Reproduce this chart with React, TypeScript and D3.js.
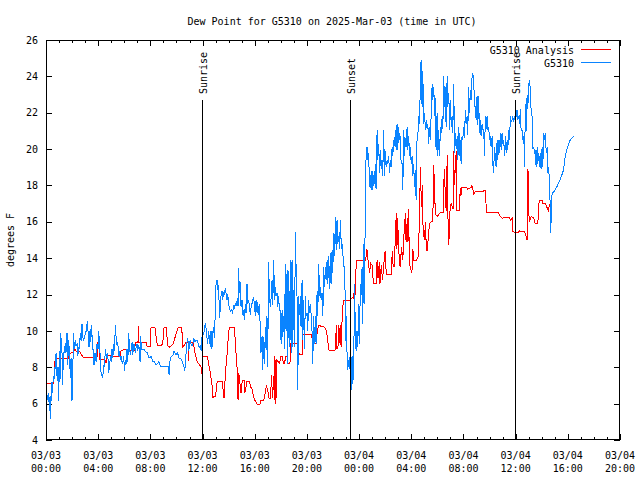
import React from 'react';
import * as d3 from 'd3';

// Chart text
const TITLE = 'Dew Point for G5310 on 2025-Mar-03 (time in UTC)';
const Y_LABEL = 'degrees F';
const SERIES_NAMES = ['G5310 Analysis', 'G5310'];
const SERIES_COLORS = ['#ff0000', '#0a84ff'];

// Axis ticks
const Y_TICKS = [4, 6, 8, 10, 12, 14, 16, 18, 20, 22, 24, 26];
const X_TICK_HOURS = [0, 4, 8, 12, 16, 20, 24, 28, 32, 36, 40, 44];
const X_DOMAIN_HOURS = [0, 44];
const Y_DOMAIN = [4, 26];

// Sun events (hours after 2025-03-03 00:00 UTC)
const SUN_LABELS = ['Sunrise', 'Sunset', 'Sunrise'];
const SUN_HOURS = [11.95, 23.27, 35.93];

// G5310 Analysis: [hours after 03/03 00:00 UTC, dew point F]
const ANALYSIS: [number, number][] = [
  [0, 7.1], [0.6, 7.1], [0.65, 8.2], [0.75, 8.5], [1.7, 8.5], [1.8, 8.75], [2.1, 8.85], [2.2, 9.0],
  [2.35, 8.85], [2.6, 8.85], [2.7, 8.7], [2.85, 8.55], [3.75, 8.5], [3.9, 8.35], [3.95, 9.35], [4.05, 9.35],
  [4.1, 8.45], [4.5, 8.45], [4.6, 8.25], [4.7, 8.7], [5.0, 8.6], [5.7, 8.6], [5.75, 8.9], [6.1, 9.0],
  [6.2, 8.95], [6.8, 8.95], [6.85, 9.35], [7.05, 9.35], [7.08, 10.25], [7.12, 9.35], [7.7, 9.35], [7.75, 9.15],
  [8.0, 9.15], [8.05, 10.2], [8.35, 10.2], [8.45, 9.6], [8.55, 9.2], [8.85, 9.2], [8.95, 9.3], [9.05, 10.2],
  [9.25, 10.2], [9.3, 9.2], [9.5, 9.1], [9.75, 9.3], [10.0, 9.9], [10.15, 10.2], [10.4, 10.2], [10.5, 9.1],
  [10.7, 9.35], [10.9, 9.35], [10.93, 8.35], [10.98, 9.35], [11.3, 9.35], [11.4, 8.9], [11.45, 8.7], [11.6, 8.3],
  [11.7, 8.2], [11.9, 8.0], [11.95, 7.65], [12.0, 8.6], [12.38, 8.6], [12.45, 8.2], [12.55, 7.9], [12.65, 7.4],
  [12.75, 6.9], [12.8, 6.3], [12.85, 6.4], [13.0, 6.4], [13.05, 6.8], [13.12, 7.2], [13.5, 7.2], [13.6, 6.6],
  [13.65, 6.3], [13.7, 6.9], [13.75, 7.7], [13.85, 8.4], [13.95, 9.4], [14.05, 10.2], [14.45, 10.2], [14.5, 9.5],
  [14.6, 8.4], [14.7, 7.5], [14.72, 6.2], [14.78, 7.7], [14.85, 7.2], [14.95, 6.6], [15.05, 7.3], [15.2, 7.3],
  [15.25, 6.6], [15.4, 7.2], [15.6, 7.2], [15.7, 6.9], [15.8, 6.8], [15.9, 6.4], [16.0, 6.2], [16.1, 6.1],
  [16.2, 5.95], [16.4, 5.95], [16.45, 6.2], [16.7, 6.2], [16.8, 6.6], [16.9, 7.0], [17.0, 6.7], [17.1, 6.3],
  [17.2, 6.3], [17.3, 7.6], [17.35, 6.3], [17.45, 7.5], [17.5, 6.2], [17.55, 8.6], [17.62, 6.0], [17.7, 8.4],
  [17.9, 8.2], [18.0, 8.6], [18.1, 8.6], [18.2, 8.2], [18.3, 8.2], [18.35, 8.6], [18.5, 8.6], [18.55, 8.2],
  [18.7, 8.2], [18.75, 9.3], [19.35, 9.3], [19.4, 8.7], [19.65, 8.7], [19.7, 9.8], [20.35, 9.8], [20.45, 9.3],
  [20.7, 9.3], [20.8, 10.0], [20.9, 10.3], [21.35, 10.2], [21.5, 10.0], [21.6, 9.4], [21.7, 8.9], [22.15, 8.9],
  [22.2, 9.2], [22.25, 10.3], [22.3, 9.0], [22.4, 9.2], [22.45, 10.3], [22.55, 9.2], [22.6, 10.3], [22.65, 9.1],
  [22.7, 10.8], [22.8, 11.7], [23.3, 11.7], [23.5, 11.85], [23.6, 11.8], [23.62, 12.3], [23.68, 11.8], [23.72, 12.8],
  [23.8, 13.9], [24.5, 13.9], [24.6, 14.5], [24.68, 13.9], [24.75, 13.5], [24.8, 13.2], [24.9, 13.7], [25.0, 13.6],
  [25.05, 13.1], [25.1, 12.6], [25.3, 12.6], [25.38, 13.9], [25.45, 12.9], [25.55, 13.8], [25.6, 12.6], [25.7, 13.6],
  [25.8, 12.8], [25.9, 13.7], [26.0, 14.4], [26.05, 13.5], [26.1, 13.1], [26.45, 13.1], [26.55, 14.4], [26.6, 13.7],
  [26.7, 13.5], [26.78, 15.2], [26.85, 16.5], [26.9, 14.5], [26.95, 16.2], [27.05, 14.3], [27.15, 13.5], [27.25, 14.6],
  [27.35, 13.9], [27.45, 15.4], [27.55, 16.5], [27.6, 14.9], [27.7, 16.2], [27.75, 14.9], [27.8, 16.7], [27.85, 13.8],
  [27.95, 13.4], [28.05, 13.2], [28.12, 14.5], [28.2, 13.9], [28.4, 13.9], [28.55, 14.1], [28.65, 17.1], [28.7, 19.0],
  [28.78, 16.8], [28.85, 18.0], [28.9, 15.8], [29.0, 15.0], [29.1, 16.0], [29.15, 14.4], [29.25, 14.4], [29.3, 15.2],
  [29.4, 15.9], [29.55, 16.0], [29.65, 16.0], [29.72, 19.1], [29.78, 17.8], [29.85, 16.4], [30.0, 16.3], [30.2, 16.5],
  [30.45, 16.5], [30.5, 18.2], [30.55, 18.9], [30.62, 17.0], [30.7, 16.6], [30.75, 19.7], [30.8, 16.5], [30.88, 14.7],
  [30.95, 16.5], [31.05, 17.0], [31.2, 16.7], [31.25, 19.9], [31.3, 18.0], [31.38, 19.0], [31.45, 19.9], [31.5, 16.65],
  [31.7, 16.65], [31.75, 17.85], [31.8, 17.4], [31.87, 17.9], [32.25, 17.9], [32.3, 17.8], [32.5, 17.85], [32.6, 17.9],
  [32.65, 18.0], [32.7, 17.9], [32.8, 17.5], [32.9, 17.65], [33.5, 17.65], [33.6, 17.75], [33.7, 17.7], [33.75, 16.5],
  [34.7, 16.5], [34.8, 16.3], [35.0, 16.2], [35.2, 16.25], [35.5, 16.25], [35.6, 16.1], [35.75, 16.2], [35.8, 15.45],
  [36.2, 15.4], [36.3, 15.5], [36.7, 15.45], [36.8, 15.2], [36.88, 15.0], [36.9, 18.9], [36.95, 17.0], [36.97, 18.8],
  [37.0, 16.6], [37.05, 16.0], [37.2, 16.3], [37.4, 16.2], [37.5, 15.9], [37.7, 15.9], [37.78, 17.0], [37.85, 17.2],
  [38.05, 17.2], [38.1, 17.0], [38.3, 17.0], [38.4, 16.8], [38.5, 16.6], [38.6, 17.0],
];

// G5310 observations: [hours after 03/03 00:00 UTC, dew point F]
const OBSERVED: [number, number][] = [
  [0.05, 6.6], [0.13, 6.2], [0.2, 6.6], [0.26, 5.6], [0.31, 6.4], [0.36, 5.14], [0.41, 7.2], [0.49, 6.6],
  [0.56, 7.5], [0.61, 7.3], [0.66, 8.0], [0.72, 7.9], [0.77, 8.8], [0.84, 7.5], [0.9, 8.0], [0.95, 6.15],
  [1.02, 8.9], [1.07, 7.2], [1.13, 9.9], [1.18, 9.2], [1.25, 8.6], [1.28, 7.0], [1.33, 8.8], [1.41, 8.8],
  [1.48, 9.36], [1.53, 8.8], [1.61, 9.9], [1.66, 8.1], [1.74, 9.5], [1.79, 8.8], [1.87, 7.4], [1.92, 8.5],
  [1.99, 6.15], [2.05, 7.1], [2.07, 8.4], [2.12, 9.9], [2.17, 9.0], [2.25, 9.5], [2.3, 9.2], [2.38, 9.3],
  [2.43, 8.6], [2.51, 9.1], [2.56, 9.0], [2.63, 9.9], [2.69, 9.45], [2.76, 10.37], [2.81, 9.7], [2.89, 9.5],
  [2.94, 9.6], [3.02, 9.9], [3.09, 10.0], [3.17, 10.55], [3.25, 9.7], [3.3, 9.1], [3.38, 10.1], [3.43, 9.4],
  [3.5, 10.3], [3.56, 9.1], [3.63, 8.9], [3.68, 8.1], [3.76, 8.8], [3.84, 8.3], [3.91, 9.3], [3.99, 9.0],
  [4.04, 10.0], [4.09, 9.4], [4.17, 8.4], [4.22, 7.7], [4.3, 7.5], [4.35, 7.4], [4.42, 8.1], [4.48, 8.0],
  [4.55, 9.0], [4.6, 8.7], [4.68, 8.5], [4.73, 8.8], [4.81, 7.7], [4.86, 8.0], [4.94, 8.6], [4.99, 8.3],
  [5.06, 9.0], [5.12, 8.5], [5.19, 9.3], [5.24, 8.9], [5.32, 10.3], [5.37, 9.7], [5.45, 9.2], [5.5, 9.4],
  [5.58, 8.6], [5.63, 8.9], [5.7, 8.4], [5.75, 8.6], [5.83, 8.3], [5.88, 8.2], [5.96, 8.6], [6.01, 7.8],
  [6.09, 8.4], [6.14, 8.2], [6.21, 9.0], [6.27, 8.3], [6.34, 9.9], [6.39, 9.1], [6.47, 8.7], [6.52, 8.9],
  [6.6, 9.4], [6.65, 8.7], [6.73, 9.3], [6.78, 9.2], [6.85, 8.8], [6.91, 9.1], [6.98, 9.3], [7.03, 8.9],
  [7.11, 9.2], [7.16, 9.0], [7.21, 8.3], [7.26, 9.7], [7.31, 9.0], [7.47, 9.0], [7.67, 8.85], [7.77, 8.8],
  [7.9, 8.5], [8.06, 8.6], [8.18, 8.3], [8.31, 8.3], [8.44, 8.15], [8.54, 8.2], [8.64, 8.3], [8.8, 8.05],
  [9.36, 8.05], [9.44, 7.6], [9.51, 8.4], [9.59, 8.6], [9.72, 8.65], [9.82, 8.9], [9.95, 8.7], [10.08, 8.8],
  [10.2, 8.5], [10.33, 8.5], [10.46, 8.3], [10.59, 8.0], [10.64, 7.8], [10.72, 8.6], [10.79, 9.3], [10.87, 9.6],
  [10.95, 8.9], [11.0, 9.3], [11.07, 9.5], [11.13, 9.2], [11.23, 9.2], [11.33, 9.6], [11.41, 9.4], [11.51, 9.5],
  [11.59, 9.5], [11.66, 9.3], [11.74, 9.1], [11.84, 9.2], [11.89, 8.9], [11.97, 9.8],
  [12.06, 9.8], [12.14, 10.0], [12.21, 10.45], [12.26, 10.2], [12.34, 9.6], [12.39, 9.3], [12.47, 10.0], [12.52, 9.6],
  [12.6, 9.13], [12.65, 10.0], [12.72, 9.0], [12.78, 9.9], [12.85, 10.23], [12.9, 9.6], [12.98, 11.0], [13.03, 12.5],
  [13.11, 12.8], [13.16, 12.25], [13.24, 12.5], [13.29, 10.7], [13.36, 11.2], [13.41, 11.9], [13.49, 12.2], [13.54, 11.7],
  [13.62, 12.15], [13.67, 11.98], [13.75, 12.35], [13.8, 12.1], [13.88, 11.7], [13.93, 12.0], [14.0, 11.5], [14.08, 11.2],
  [14.16, 11.1], [14.23, 11.15], [14.31, 11.0], [14.39, 11.4], [14.44, 11.3], [14.51, 11.5], [14.59, 11.35], [14.67, 11.8],
  [14.72, 11.35], [14.77, 13.45], [14.82, 12.1], [14.9, 12.7], [14.95, 11.33], [15.03, 11.7], [15.08, 10.9], [15.15, 11.15],
  [15.2, 10.6], [15.28, 11.5], [15.33, 10.97], [15.41, 12.6], [15.46, 11.5], [15.54, 11.7], [15.59, 11.33], [15.66, 10.9],
  [15.72, 11.3], [15.79, 11.5], [15.84, 11.7], [15.92, 11.8], [15.97, 11.5], [16.05, 10.8], [16.1, 11.7], [16.18, 11.0],
  [16.23, 11.6], [16.3, 10.9], [16.36, 11.5], [16.43, 10.05], [16.48, 8.8], [16.56, 9.7], [16.61, 7.85], [16.69, 9.68],
  [16.74, 8.2], [16.82, 10.2], [16.87, 8.95], [16.94, 10.8], [16.99, 8.03], [17.07, 13.8], [17.12, 12.0], [17.2, 11.3],
  [17.25, 11.8], [17.33, 12.8], [17.38, 11.4], [17.46, 13.9], [17.51, 11.7], [17.58, 12.4], [17.63, 11.9], [17.71, 12.1],
  [17.76, 11.3], [17.84, 11.9], [17.89, 11.1], [17.97, 11.1], [18.02, 9.3], [18.1, 11.15], [18.15, 9.68], [18.22, 10.8],
  [18.27, 9.0], [18.35, 13.7], [18.4, 10.0], [18.48, 13.35], [18.53, 8.2], [18.61, 13.3], [18.66, 9.1], [18.73, 13.9],
  [18.79, 8.8], [18.86, 13.9], [18.91, 9.1], [18.99, 12.25], [19.04, 9.1], [19.12, 15.45], [19.17, 13.5], [19.25, 11.7],
  [19.3, 6.75], [19.37, 11.9], [19.43, 10.9], [19.5, 11.9], [19.55, 10.2], [19.63, 12.8], [19.68, 9.5], [19.76, 11.7],
  [19.81, 9.0], [19.89, 11.9], [19.94, 10.8], [20.01, 10.97], [20.06, 10.0], [20.14, 11.7], [20.19, 11.0], [20.27, 11.5],
  [20.32, 10.9], [20.4, 9.87], [20.45, 8.2], [20.52, 10.8], [20.58, 9.3], [20.65, 10.8], [20.7, 9.3], [20.78, 12.2],
  [20.83, 10.8], [20.91, 13.7], [20.96, 11.9], [21.04, 12.4], [21.09, 11.7], [21.16, 12.1], [21.22, 10.8], [21.29, 13.5],
  [21.34, 12.4], [21.42, 13.5], [21.47, 12.8], [21.55, 13.9], [21.6, 12.6], [21.68, 14.1], [21.73, 12.3], [21.8, 14.3],
  [21.85, 12.6], [21.93, 14.45], [21.98, 13.2], [22.06, 15.4], [22.11, 14.1], [22.19, 16.28], [22.24, 14.45], [22.31, 16.1],
  [22.37, 14.8], [22.44, 15.2], [22.49, 14.5], [22.57, 16.1],
  [22.64, 14.5], [22.72, 14.8], [22.77, 14.1], [22.85, 13.5], [22.9, 12.6], [22.97, 11.5], [23.0, 9.3], [23.03, 10.8],
  [23.08, 8.6], [23.13, 7.85], [23.2, 8.4], [23.26, 7.9], [23.33, 8.95], [23.38, 6.75], [23.46, 8.6], [23.51, 7.1],
  [23.59, 7.67], [23.64, 12.6], [23.72, 9.9], [23.77, 8.9], [23.84, 10.0], [23.9, 9.1], [23.97, 11.5], [24.02, 9.3],
  [24.1, 12.6], [24.15, 12.0], [24.23, 13.5], [24.28, 10.4], [24.36, 14.8], [24.41, 11.5], [24.48, 17.2], [24.53, 19.4],
  [24.61, 20.13], [24.66, 19.4], [24.74, 19.8], [24.79, 17.9], [24.87, 18.6], [24.92, 17.75], [24.99, 18.8], [25.05, 17.75],
  [25.12, 18.6], [25.17, 18.1], [25.25, 19.2], [25.3, 17.8], [25.38, 21.05], [25.43, 19.4], [25.51, 20.3], [25.56, 18.7],
  [25.63, 19.95], [25.69, 18.9], [25.76, 19.4], [25.81, 18.5], [25.89, 21.05], [25.94, 18.5], [26.02, 19.9], [26.07, 19.0],
  [26.15, 19.4], [26.2, 19.2], [26.27, 19.6], [26.33, 18.7], [26.4, 19.4], [26.45, 19.0], [26.53, 20.1], [26.58, 19.6],
  [26.66, 20.5], [26.71, 20.15], [26.79, 21.05], [26.84, 19.95], [26.91, 21.4], [26.96, 19.95], [27.04, 21.2], [27.09, 20.5],
  [27.17, 20.7], [27.22, 19.2], [27.3, 19.2], [27.35, 17.75], [27.43, 21.05], [27.48, 19.6], [27.55, 20.6], [27.6, 20.1],
  [27.68, 21.2], [27.73, 19.95], [27.81, 20.7], [27.86, 19.6], [27.94, 20.1], [27.99, 19.2], [28.06, 19.6], [28.12, 18.5],
  [28.19, 19.2], [28.24, 17.9], [28.32, 18.85], [28.37, 17.2], [28.45, 20.87], [28.5, 20.7], [28.58, 21.8], [28.63, 21.4],
  [28.7, 23.6], [28.75, 24.9], [28.83, 22.3], [28.88, 24.3], [28.96, 21.4], [29.01, 22.0], [29.09, 21.05], [29.14, 21.6],
  [29.22, 21.1], [29.27, 21.4], [29.34, 20.3], [29.39, 21.2], [29.47, 20.5], [29.52, 21.8], [29.6, 23.6], [29.65, 22.7],
  [29.73, 23.4], [29.78, 21.8], [29.85, 22.8], [29.9, 19.95], [29.98, 22.0], [30.03, 19.6], [30.11, 21.05], [30.16, 19.6],
  [30.24, 21.2], [30.29, 20.9], [30.37, 21.8], [30.42, 21.1], [30.49, 24.0], [30.55, 22.3], [30.62, 23.4], [30.67, 21.2],
  [30.75, 24.0], [30.8, 22.3], [30.88, 23.1], [30.93, 21.05], [31.01, 22.7], [31.06, 21.2], [31.13, 21.8], [31.18, 20.9],
  [31.26, 23.6], [31.31, 19.8], [31.39, 20.87], [31.44, 20.0], [31.52, 20.7], [31.57, 19.4], [31.65, 21.2], [31.7, 19.6],
  [31.77, 20.5], [31.82, 19.2], [31.89, 20.7], [31.94, 20.5], [32.02, 21.2], [32.07, 20.6], [32.15, 22.15], [32.2, 21.4],
  [32.28, 21.8], [32.33, 20.8], [32.4, 23.4], [32.46, 22.0], [32.53, 23.25], [32.58, 22.7], [32.66, 24.0], [32.71, 24.2],
  [32.79, 23.8], [32.84, 22.4], [32.92, 22.3], [32.97, 21.6], [33.04, 22.9], [33.1, 21.3], [33.17, 22.9], [33.22, 20.9],
  [33.3, 21.6], [33.35, 20.7], [33.43, 21.4], [33.48, 21.1], [33.56, 21.05], [33.61, 19.6], [33.68, 21.8], [33.73, 21.1],
  [33.81, 21.8], [33.86, 21.05], [33.94, 21.2], [33.99, 20.5], [34.07, 20.7], [34.12, 20.1], [34.2, 20.7], [34.25, 19.2],
  [34.32, 18.7], [34.37, 20.1], [34.45, 19.6], [34.5, 19.0], [34.58, 20.5], [34.63, 19.4], [34.71, 20.5], [34.76, 19.8],
  [34.83, 20.9], [34.89, 19.95], [34.96, 20.9], [35.01, 20.3], [35.09, 20.5], [35.14, 19.6], [35.22, 20.7], [35.27, 19.8],
  [35.35, 20.5], [35.4, 19.95], [35.47, 21.05], [35.53, 20.5], [35.6, 21.8], [35.65, 21.5], [35.73, 21.6], [35.78, 21.8],
  [35.86, 21.5], [35.91, 21.8], [35.99, 21.6], [36.04, 21.8], [36.11, 22.15], [36.16, 21.6], [36.24, 21.8], [36.29, 21.4],
  [36.37, 22.2], [36.42, 21.0], [36.5, 21.0], [36.55, 20.5], [36.63, 20.7], [36.68, 19.0], [36.75, 22.5], [36.8, 21.0],
  [36.88, 23.0], [36.93, 22.2], [37.01, 23.6], [37.06, 23.8], [37.14, 23.2], [37.19, 22.0], [37.26, 21.8], [37.32, 20.0],
  [37.39, 20.1], [37.44, 19.8], [37.52, 19.9], [37.57, 19.0], [37.65, 20.1], [37.7, 19.2], [37.78, 19.8], [37.83, 19.0],
  [37.9, 19.8], [37.95, 18.9], [38.03, 20.1], [38.08, 19.0], [38.16, 20.9], [38.21, 20.5], [38.29, 20.87], [38.34, 19.8],
  [38.42, 20.1], [38.47, 18.7], [38.54, 19.0], [38.6, 17.75], [38.65, 17.0], [38.7, 15.4], [38.75, 17.4], [38.85, 17.6],
  [39.03, 17.75], [39.16, 17.93], [39.41, 18.3], [39.67, 18.85], [39.8, 19.6], [39.92, 19.95], [40.18, 20.5], [40.44, 20.7],
];

const T0 = Date.UTC(2025, 2, 3, 0, 0, 0);
const toDate = (h: number) => new Date(T0 + h * 3600 * 1000);

const FONT = "'DejaVu Sans Mono', 'Liberation Mono', monospace";

export default function App() {
  const left = 46, right = 620, top = 40, bottom = 440;
  const x = d3.scaleUtc().domain([toDate(X_DOMAIN_HOURS[0]), toDate(X_DOMAIN_HOURS[1])]).range([left, right]);
  const y = d3.scaleLinear().domain(Y_DOMAIN).range([bottom, top]);

  const line = d3.line<[number, number]>()
    .x((d) => x(toDate(d[0])))
    .y((d) => y(d[1]));

  const fmtDay = d3.utcFormat('%m/%d');
  const fmtTime = d3.utcFormat('%H:%M');
  const minorTicks = d3.utcHour.range(toDate(X_DOMAIN_HOURS[0]), toDate(X_DOMAIN_HOURS[1] + 0.01));
  const majorTicks = X_TICK_HOURS.map(toDate);
  const majorSet = new Set(majorTicks.map((d) => d.getTime()));

  const majorLen = 6;
  const minorLen = 3;

  return (
    <svg width={640} height={480} style={{ position: 'absolute', left: 0, top: 0, background: '#fff' }}
      fontFamily={FONT} fontSize={10}>
      <rect x={0} y={0} width={640} height={480} fill="#fff" />
      {/* title */}
      <text x={332} y={25} textAnchor="middle" fill="#000">{TITLE}</text>
      {/* y label */}
      <text transform={`translate(14,${(top + bottom) / 2}) rotate(-90)`} textAnchor="middle" fill="#000">{Y_LABEL}</text>

      {/* y ticks */}
      {Y_TICKS.map((t) => (
        <g key={`y${t}`} shapeRendering="crispEdges">
          <line x1={left} x2={left + majorLen} y1={Math.round(y(t)) + 0.5} y2={Math.round(y(t)) + 0.5} stroke="#000" />
          <line x1={right - majorLen} x2={right} y1={Math.round(y(t)) + 0.5} y2={Math.round(y(t)) + 0.5} stroke="#000" />
          <text x={38} y={y(t) + 3.6} textAnchor="end" fill="#000">{t}</text>
        </g>
      ))}

      {/* x ticks */}
      {minorTicks.map((d) => {
        const isMajor = majorSet.has(d.getTime());
        const len = isMajor ? majorLen : minorLen;
        const xx = Math.round(x(d)) + 0.5;
        return (
          <g key={`x${d.getTime()}`} shapeRendering="crispEdges">
            <line x1={xx} x2={xx} y1={bottom} y2={bottom - len} stroke="#000" />
            <line x1={xx} x2={xx} y1={top} y2={top + len} stroke="#000" />
          </g>
        );
      })}
      {majorTicks.map((d) => (
        <g key={`xl${d.getTime()}`}>
          <text x={x(d)} y={459} textAnchor="middle" fill="#000">{fmtDay(d)}</text>
          <text x={x(d)} y={471.5} textAnchor="middle" fill="#000">{fmtTime(d)}</text>
        </g>
      ))}

      {/* data */}
      <path d={line(ANALYSIS) || ''} fill="none" stroke={SERIES_COLORS[0]} strokeWidth={1} shapeRendering="crispEdges" />
      <path d={line(OBSERVED) || ''} fill="none" stroke={SERIES_COLORS[1]} strokeWidth={1} shapeRendering="crispEdges" />

      {/* sun events */}
      {SUN_HOURS.map((h, i) => {
        const xx = Math.round(x(toDate(h))) + 0.5;
        return (
          <g key={`sun${i}`}>
            <line x1={xx} x2={xx} y1={100} y2={bottom} stroke="#000" shapeRendering="crispEdges" />
            <text transform={`translate(${xx + 4},94) rotate(-90)`} textAnchor="start" fill="#000">{SUN_LABELS[i]}</text>
          </g>
        );
      })}

      {/* legend */}
      {SERIES_NAMES.map((name, i) => (
        <g key={`lg${i}`}>
          <text x={574} y={53.6 + i * 13} textAnchor="end" fill="#000">{name}</text>
          <line x1={581} x2={611} y1={49.5 + i * 13} y2={49.5 + i * 13} stroke={SERIES_COLORS[i]} shapeRendering="crispEdges" />
        </g>
      ))}

      {/* border */}
      <rect x={left + 0.5} y={top + 0.5} width={right - left - 1} height={bottom - top - 1} fill="none" stroke="#000" shapeRendering="crispEdges" />
    </svg>
  );
}
